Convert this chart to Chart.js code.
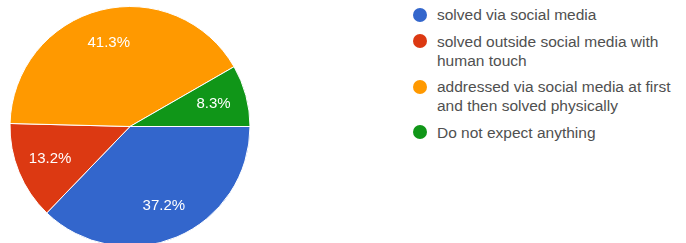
<!DOCTYPE html>
<html>
<head>
<meta charset="utf-8">
<script src="https://cdn.jsdelivr.net/npm/chart.js@4"></script>
<style>
  html, body { margin: 0; padding: 0; background: #fff; width: 686px; height: 243px; overflow: hidden; }
  #pie { position: absolute; left: 0; top: 0; width: 260px; height: 253px; }
  #legend { position: absolute; left: 413px; top: 5px; font-family: Arial, "Liberation Sans", sans-serif; font-size: 15.5px; color: #505050; white-space: nowrap; }
  .item { position: relative; padding-left: 24px; line-height: 19px; margin-bottom: 7.5px; }
  .dot { position: absolute; left: 0; top: 2.5px; width: 14px; height: 14px; border-radius: 50%; }
</style>
</head>
<body>
<div id="pie"><canvas id="myChart"></canvas></div>
<div id="legend"></div>
<script>
  const labels = [
    ['solved via social media'],
    ['solved outside social media with', 'human touch'],
    ['addressed via social media at first', 'and then solved physically'],
    ['Do not expect anything']
  ]
  const values = [37.2, 13.2, 41.3, 8.3]
  const colors = ['#3366cc', '#dc3912', '#ff9900', '#109618']

  // legend
  const lg = document.getElementById('legend')
  labels.forEach((l, i) => {
    const d = document.createElement('div')
    d.className = 'item'
    d.innerHTML = '<span class="dot" style="background:' + colors[i] + '"></span>' + l.join('<br>')
    lg.appendChild(d)
  })

  // percent labels inside slices
  const sliceLabels = {
    id: 'sliceLabels',
    afterDatasetsDraw (chart) {
      const c = chart.ctx
      const meta = chart.getDatasetMeta(0)
      c.save()
      c.fillStyle = '#fff'
      c.font = '15px Arial, "Liberation Sans", sans-serif'
      c.textAlign = 'center'
      c.textBaseline = 'middle'
      meta.data.forEach((arc, i) => {
        const p = arc.getProps(['x', 'y', 'startAngle', 'endAngle', 'outerRadius'], true)
        const a = (p.startAngle + p.endAngle) / 2
        const r = p.outerRadius * 0.72
        c.fillText(values[i].toFixed(1) + '%', p.x + Math.cos(a) * r, p.y + Math.sin(a) * r)
      })
      c.restore()
    }
  }

  new Chart(document.getElementById('myChart'), {
    type: 'pie',
    data: {
      labels: labels.map(l => l.join(' ')),
      datasets: [{
        data: values,
        backgroundColor: colors,
        borderColor: '#fff',
        borderWidth: 1,
        radius: 120,
        rotation: 90
      }]
    },
    options: {
      responsive: true,
      maintainAspectRatio: false,
      animation: false,
      layout: { padding: 0 },
      plugins: {
        legend: { display: false },
        tooltip: { enabled: false }
      }
    },
    plugins: [sliceLabels]
  })
</script>
</body>
</html>
